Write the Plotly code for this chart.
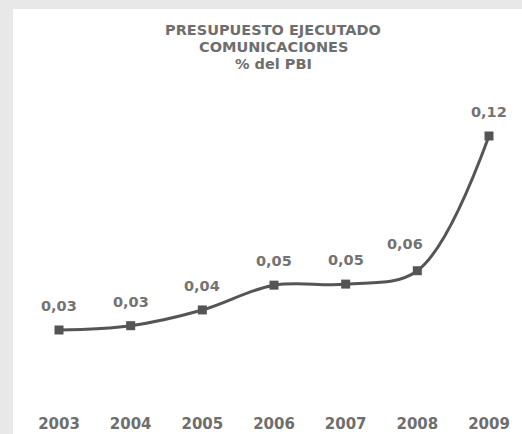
import plotly.graph_objects as go

years = [2003, 2004, 2005, 2006, 2007, 2008, 2009]
values = [0.030, 0.032, 0.0393, 0.0508, 0.0513, 0.0575, 0.120]
value_labels = ["0,03", "0,03", "0,04", "0,05", "0,05", "0,06", "0,12"]
year_labels = ["2003", "2004", "2005", "2006", "2007", "2008", "2009"]
title_lines = ["PRESUPUESTO EJECUTADO", "COMUNICACIONES", "% del PBI"]

W, H = 522, 434
ML, MR, MT, MB = 13, 0, 9, 21
PW, PH = W - ML - MR, H - MT - MB

LINE = "#555555"
FONT = "DejaVu Sans"
# label nudges (style only): move the 2008 label left, clear of the rising line
LABEL_NUDGE = {2008: (-12, 27)}

fig = go.Figure()
fig.add_trace(go.Scatter(
    x=years, y=values, mode="lines+markers",
    line=dict(color=LINE, width=3, shape="spline", smoothing=1.0),
    marker=dict(symbol="square", size=9, color=LINE),
    hoverinfo="skip", showlegend=False,
))

annotations = []
for xv, yv, t in zip(years, values, value_labels):
    dx, dy = LABEL_NUDGE.get(xv, (0, 24))
    annotations.append(dict(
        x=xv, y=yv, xref="x", yref="y", text=t, showarrow=False,
        yanchor="middle", xanchor="center", xshift=dx, yshift=dy,
        font=dict(family=FONT, size=14.5, color="#737373", weight="bold"),
    ))

title_px = [30, 47, 64]
for line, py in zip(title_lines, title_px):
    annotations.append(dict(
        x=(273 - ML) / PW, y=1 - (py - MT) / PH, xref="paper", yref="paper",
        text=line, showarrow=False, xanchor="center", yanchor="middle",
        font=dict(family=FONT, size=14.5, color="#6e6e6e", weight="bold"),
    ))

shapes = [
    dict(type="rect", xref="paper", yref="paper", layer="below",
         x0=-ML / PW, x1=0, y0=-MB / PH, y1=1 + MT / PH,
         fillcolor="#e8e8e8", line=dict(width=0)),
    dict(type="rect", xref="paper", yref="paper", layer="below",
         x0=-ML / PW, x1=1 + MR / PW, y0=1, y1=1 + MT / PH,
         fillcolor="#e8e8e8", line=dict(width=0)),
]

px_per_year = (489 - 59) / 6
x0 = 2003 - (59 - ML) / px_per_year
x1 = x0 + PW / px_per_year
px_per_unit = (330 - 136) / (0.120 - 0.030)
bottom = H - MB
y0 = 0.030 - (bottom - 330) / px_per_unit
y1 = y0 + PH / px_per_unit

fig.update_layout(
    width=W, height=H,
    margin=dict(l=ML, r=MR, t=MT, b=MB, pad=0),
    paper_bgcolor="white", plot_bgcolor="white",
    xaxis=dict(range=[x0, x1], tickmode="array", tickvals=years, ticktext=year_labels,
               showgrid=False, zeroline=False, showline=False, ticks="",
               tickfont=dict(family=FONT, size=15, color="#6e6e6e", weight="bold")),
    yaxis=dict(range=[y0, y1], visible=False, showgrid=False, zeroline=False),
    annotations=annotations, shapes=shapes,
)

fig.write_html("out.html", config={"displayModeBar": False},
               post_script="document.body.style.margin='0';document.body.style.overflow='hidden';")
